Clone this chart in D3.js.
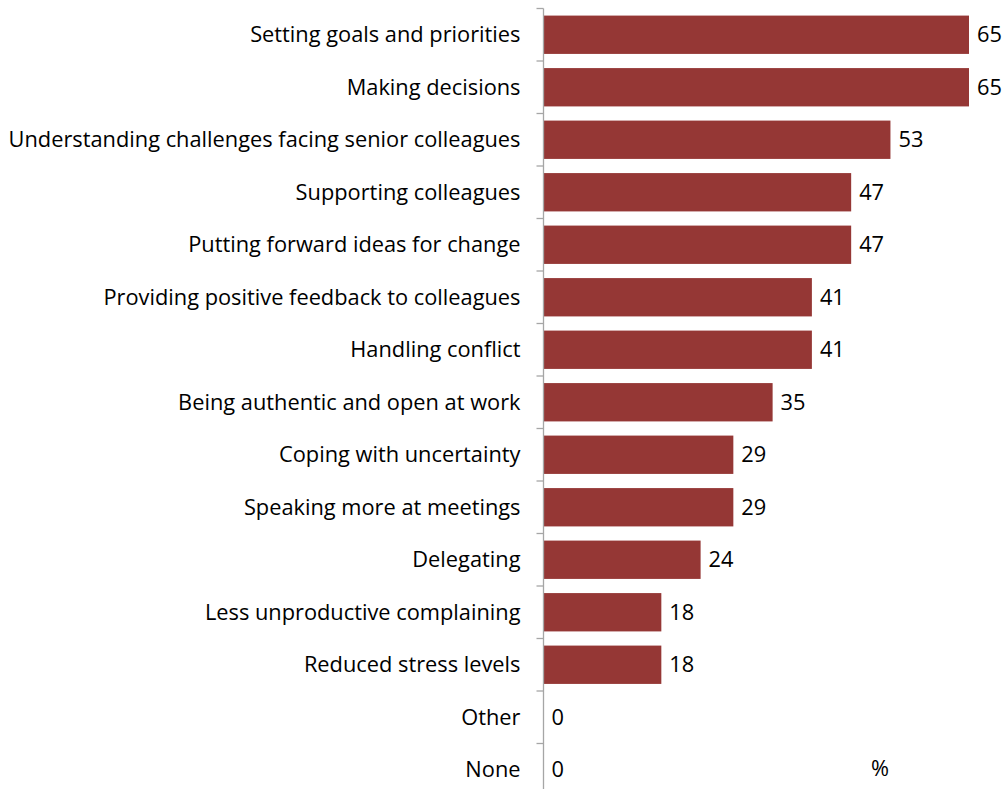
<!DOCTYPE html>
<html>
<head>
<meta charset="utf-8">
<script src="https://cdn.jsdelivr.net/npm/d3@7"></script>
<style>
  html, body { margin: 0; padding: 0; background: #ffffff; }
  svg { display: block; }
  text { font-family: "Open Sans", Lato, sans-serif; fill: #000; }
</style>
</head>
<body>
<svg id="chart" width="1007" height="789"></svg>
<script>
// Skills respondents reported improving (percent)
const categories = [
  "Setting goals and priorities",
  "Making decisions",
  "Understanding challenges facing senior colleagues",
  "Supporting colleagues",
  "Putting forward ideas for change",
  "Providing positive feedback to colleagues",
  "Handling conflict",
  "Being authentic and open at work",
  "Coping with uncertainty",
  "Speaking more at meetings",
  "Delegating",
  "Less unproductive complaining",
  "Reduced stress levels",
  "Other",
  "None"
];
const values = [65, 65, 53, 47, 47, 41, 41, 35, 29, 29, 24, 18, 18, 0, 0];
const unitLabel = "%";

const svg = d3.select("#chart");
const axisX = 543.5;
const plotTop = 8.5;
const band = 52.5;
const fontSize = 21.8;

const y = d3.scaleBand()
  .domain(categories)
  .range([plotTop, plotTop + band * categories.length])
  .paddingInner(0.27)
  .paddingOuter(0.135);

const x = d3.scaleLinear()
  .domain([0, 65])
  .range([axisX, 969]);

// bars
svg.append("g").selectAll("rect")
  .data(categories)
  .join("rect")
  .attr("x", axisX)
  .attr("y", d => y(d))
  .attr("width", (d, i) => x(values[i]) - axisX)
  .attr("height", y.bandwidth())
  .attr("fill", "#953735");

// category axis with ticks at band boundaries
const axisG = svg.append("g");
axisG.append("line")
  .attr("x1", axisX).attr("x2", axisX)
  .attr("y1", plotTop).attr("y2", plotTop + band * categories.length)
  .attr("stroke", "#a6a6a6").attr("stroke-width", 1.3);
axisG.selectAll("line.tick")
  .data(d3.range(categories.length + 1))
  .join("line")
  .attr("class", "tick")
  .attr("x1", axisX - 7).attr("x2", axisX)
  .attr("y1", i => plotTop + band * i).attr("y2", i => plotTop + band * i)
  .attr("stroke", "#a6a6a6").attr("stroke-width", 1.3);

// category labels
svg.append("g").selectAll("text")
  .data(categories)
  .join("text")
  .attr("x", axisX - 23)
  .attr("y", d => y(d) + y.bandwidth() / 2)
  .attr("dy", "0.35em")
  .attr("text-anchor", "end")
  .attr("font-size", fontSize)
  .text(d => d);

// value labels
svg.append("g").selectAll("text")
  .data(categories)
  .join("text")
  .attr("x", (d, i) => x(values[i]) + 8)
  .attr("y", d => y(d) + y.bandwidth() / 2)
  .attr("dy", "0.35em")
  .attr("font-size", fontSize)
  .text((d, i) => values[i]);

// unit label
svg.append("text")
  .attr("x", 880)
  .attr("y", 768)
  .attr("dy", "0.35em")
  .attr("text-anchor", "middle")
  .attr("font-size", fontSize)
  .text(unitLabel);
</script>
</body>
</html>
